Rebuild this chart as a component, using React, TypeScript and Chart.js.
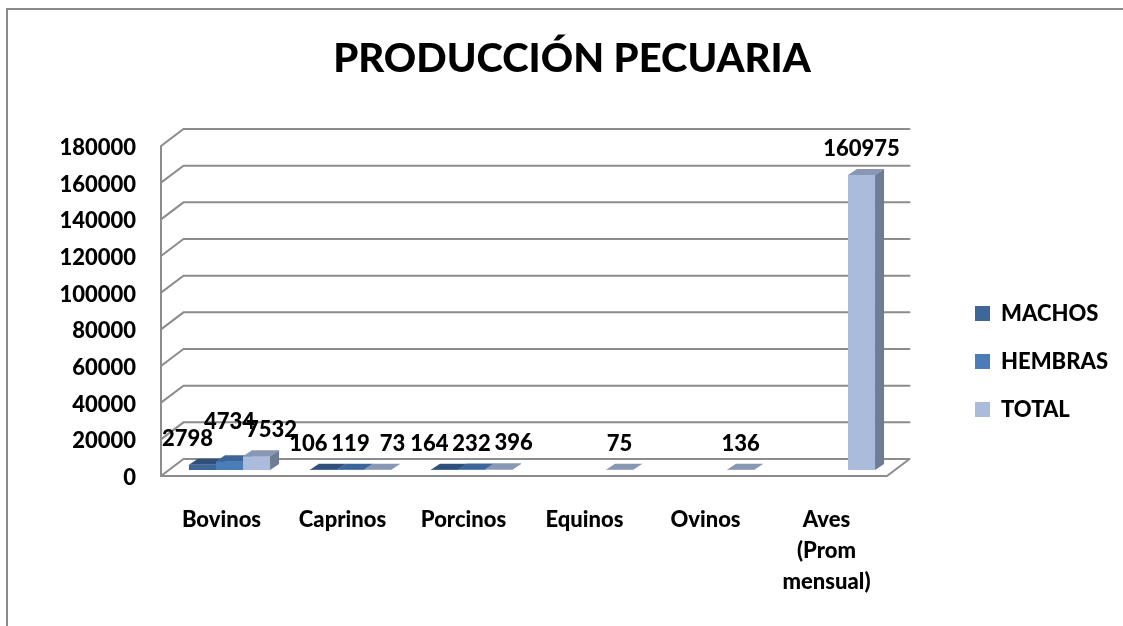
import React, { useEffect, useRef } from 'react';
import { Chart, registerables } from 'chart.js';

Chart.register(...registerables);

// ---- data ----
const categories: (string | string[])[] = ['Bovinos', 'Caprinos', 'Porcinos', 'Equinos', 'Ovinos', ['Aves', '(Prom', 'mensual)']];
const seriesNames = ['MACHOS', 'HEMBRAS', 'TOTAL'];
const machos: (number | null)[] = [2798, 106, 164, null, null, null];
const hembras: (number | null)[] = [4734, 119, 232, null, null, null];
const total: (number | null)[] = [7532, 73, 396, 75, 136, 160975];
const yMin = 0;
const yMax = 180000;
const yStep = 20000;
const chartTitle = 'PRODUCCIÓN PECUARIA';

// ---- styles ----
const frontColors = ['#3f6698', '#4a7cb8', '#aabbdb'];
const topColors = ['#2f507c', '#3c6699', '#8797b4'];
const sideColors = ['#2a4770', '#345a88', '#6f7d94'];
const gridColor = '#8c8c8c';
const FONT = 'Lato';
const WEIGHT = 900;

const BACK = { dx: 14.5, dy: -11 };
const FRONT = { dx: -8, dy: 6 };
const BAR_DX = 9;
const BAR_DY = 6;

const threeD = {
  id: 'threeD',
  beforeDraw(chart: any) {
    const lg = chart.legend;
    if (lg) {
      lg.left = 949;
      lg.right = 1123;
      lg.width = 1123 - 949;
      lg.top = 276.5;
      lg.bottom = 626;
      lg.height = 626 - 276.5;
    }
    const tb = chart.titleBlock;
    if (tb) {
      tb.left = 21;
      tb.right = 1123;
      tb.width = 1102;
    }
  },
  beforeDatasetsDraw(chart: any) {
    const ctx = chart.ctx as CanvasRenderingContext2D;
    const ys = chart.scales.y;
    const { left, right } = chart.chartArea;
    const y0 = ys.getPixelForValue(yMin);
    const yTop = ys.getPixelForValue(yMax);
    ctx.save();
    ctx.strokeStyle = gridColor;
    ctx.lineWidth = 2;
    ctx.lineCap = 'round';
    ctx.beginPath();
    ys.ticks.forEach((t: any) => {
      const py = ys.getPixelForValue(t.value);
      ctx.moveTo(left + FRONT.dx, py + FRONT.dy);
      ctx.lineTo(left + BACK.dx, py + BACK.dy);
      ctx.lineTo(right + BACK.dx, py + BACK.dy);
    });
    ctx.moveTo(left + FRONT.dx, yTop + FRONT.dy);
    ctx.lineTo(left + FRONT.dx, y0 + FRONT.dy);
    ctx.lineTo(right + FRONT.dx, y0 + FRONT.dy);
    ctx.lineTo(right + BACK.dx, y0 + BACK.dy);
    ctx.stroke();
    ctx.restore();
  },
  afterDatasetsDraw(chart: any) {
    const ctx = chart.ctx as CanvasRenderingContext2D;
    const datasets = chart.data.datasets;
    const metas = datasets.map((_: any, i: number) => chart.getDatasetMeta(i));
    const poly = (pts: number[][], color: string) => {
      ctx.beginPath();
      ctx.moveTo(pts[0][0], pts[0][1]);
      for (let i = 1; i < pts.length; i++) ctx.lineTo(pts[i][0], pts[i][1]);
      ctx.closePath();
      ctx.fillStyle = color;
      ctx.fill();
    };
    ctx.save();
    for (let c = 0; c < categories.length; c++) {
      metas.forEach((meta: any, d: number) => {
        const v = datasets[d].data[c];
        if (v == null) return;
        const el = meta.data[c];
        const { x, y, base, width } = el.getProps(['x', 'y', 'base', 'width'], true);
        const l = x - width / 2;
        const r = x + width / 2;
        ctx.fillStyle = frontColors[d];
        ctx.fillRect(l, y, width, base - y);
        poly([[l, y], [l + BAR_DX, y - BAR_DY], [r + BAR_DX, y - BAR_DY], [r, y]], topColors[d]);
        poly([[r, y], [r + BAR_DX, y - BAR_DY], [r + BAR_DX, base - BAR_DY], [r, base]], sideColors[d]);
      });
    }
    // value labels
    ctx.font = `${WEIGHT} 22px ${FONT}`;
    ctx.textAlign = 'center';
    ctx.textBaseline = 'middle';
    ctx.fillStyle = '#000';
    for (let c = 0; c < categories.length; c++) {
      const items: any[] = [];
      metas.forEach((meta: any, d: number) => {
        const v = datasets[d].data[c];
        if (v == null) return;
        items.push({ d, v, el: meta.data[c] });
      });
      const spread = items.length > 1;
      const rows: number[][][] = [];
      items.forEach(({ d, v, el }) => {
        const text = String(v);
        const w = ctx.measureText(text).width;
        const cx = el.x + (spread ? (d - 1) * 15 : 0);
        let row = 0;
        while ((rows[row] || []).some(([a, b]) => cx - w / 2 < b && cx + w / 2 > a)) row++;
        (rows[row] = rows[row] || []).push([cx - w / 2, cx + w / 2]);
        ctx.fillText(text, cx, el.y - 26 - row * 13);
      });
    }
    ctx.restore();
  },
};

export default function App() {
  const ref = useRef<HTMLCanvasElement>(null);
  useEffect(() => {
    const chart = new Chart(ref.current as HTMLCanvasElement, {
      type: 'bar',
      data: {
        labels: categories as any,
        datasets: [
          { label: seriesNames[0], data: machos, backgroundColor: frontColors[0] },
          { label: seriesNames[1], data: hembras, backgroundColor: frontColors[1] },
          { label: seriesNames[2], data: total, backgroundColor: frontColors[2] },
        ],
      },
      options: {
        responsive: false,
        animation: false,
        devicePixelRatio: 1,
        datasets: { bar: { categoryPercentage: 0.67, barPercentage: 1, borderWidth: 0 } },
        layout: { padding: { left: 20, right: 90, top: 0, bottom: 0 } },
        plugins: {
          tooltip: { enabled: false },
          title: {
            display: true,
            text: chartTitle,
            color: '#000',
            font: { family: FONT, size: 40, weight: WEIGHT, lineHeight: 1.2 },
            padding: { top: 35.5, bottom: 56.5 },
          },
          legend: {
            display: true,
            position: 'right',
            align: 'start',
            maxWidth: 138,
            labels: {
              boxWidth: 15,
              boxHeight: 15,
              padding: 26,
              color: '#000',
              font: { family: FONT, size: 22, weight: WEIGHT },
            },
          },
        },
        scales: {
          x: {
            grid: { display: false, drawTicks: false },
            border: { display: false },
            ticks: {
              color: '#000',
              font: { family: FONT, size: 22, weight: WEIGHT, lineHeight: 1.4 },
              padding: 34.6,
              labelOffset: -8,
              maxRotation: 0,
              autoSkip: false,
            },
            afterFit: (s: any) => { s.height = 156; },
          },
          y: {
            min: yMin,
            max: yMax,
            grid: { display: false, drawTicks: false },
            border: { display: false },
            ticks: {
              stepSize: yStep,
              color: '#000',
              font: { family: FONT, size: 22, weight: WEIGHT },
              padding: 33,
              labelOffset: 8,
              callback: (v: any) => String(v),
            },
            afterFit: (s: any) => { s.width = 149; },
          },
        },
      },
      plugins: [threeD],
    } as any);
    return () => chart.destroy();
  }, []);
  return (
    <div style={{ position: 'absolute', left: 0, top: 0, width: 1123, height: 626, overflow: 'hidden', background: '#fff' }}>
      <div style={{ position: 'absolute', left: 6, top: 8, width: 1400, height: 900, border: '2px solid #8a8a8a', boxSizing: 'border-box' }} />
      <canvas ref={ref} width={1123} height={626} style={{ position: 'absolute', left: 0, top: 0, display: 'block' }} />
    </div>
  );
}
